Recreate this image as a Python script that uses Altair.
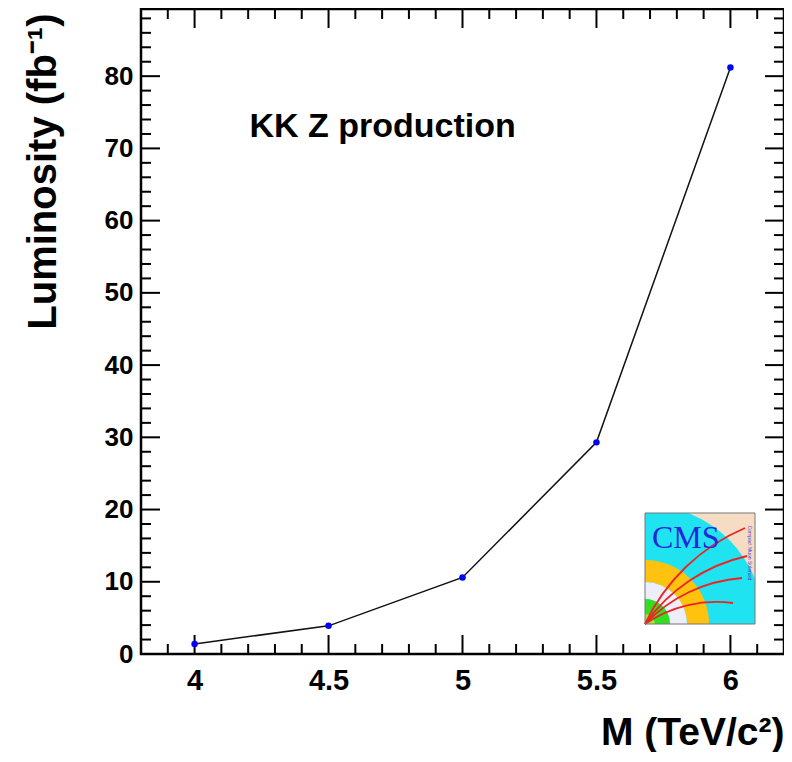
import math
import altair as alt
import pandas as pd

# ---- data ----
mass = [4.0, 4.5, 5.0, 5.5, 6.0]
lumi = [1.4, 3.9, 10.6, 29.3, 81.2]

x_major = [4.0, 4.5, 5.0, 5.5, 6.0]
x_minor = [3.9, 4.1, 4.2, 4.3, 4.4, 4.6, 4.7, 4.8, 4.9, 5.1, 5.2, 5.3, 5.4,
           5.6, 5.7, 5.8, 5.9, 6.1]
y_major = [0, 10, 20, 30, 40, 50, 60, 70, 80]
y_minor = [2, 4, 6, 8, 12, 14, 16, 18, 22, 24, 26, 28, 32, 34, 36, 38, 42, 44,
           46, 48, 52, 54, 56, 58, 62, 64, 66, 68, 72, 74, 76, 78, 82, 84, 86, 88]

annot_text = ["KK Z production"]
annot_x = [4.205]
annot_y = [71.6]

# ---- layout ----
W, H = 643, 645
PAD_L = 133
FONT = "Liberation Sans"
MAJ, MIN = 19, 10

xs = alt.Scale(domain=[3.8, 6.2], nice=False, zero=False)
ys = alt.Scale(domain=[0, 89.3], nice=False, zero=False)

df = pd.DataFrame({"M": mass, "L": lumi})

x_axis = alt.Axis(values=x_major, format="~g", title="M (TeV/c²)", ticks=False,
                  tickSize=0, domain=False, grid=False, labelFont=FONT,
                  labelFontSize=29, labelFontWeight="bold", labelColor="black",
                  labelPadding=12, titleFont=FONT, titleFontSize=39,
                  titleFontWeight="bold", titleColor="black", titleAlign="right",
                  titleBaseline="alphabetic", titleX=W, titleY=90)
y_axis = alt.Axis(values=y_major, format="d", title="Luminosity (fb⁻¹)",
                  ticks=False, tickSize=0, domain=False, grid=False,
                  labelFont=FONT, labelFontSize=26, labelFontWeight="bold",
                  labelColor="black", labelPadding=8, titleFont=FONT,
                  titleFontSize=40, titleFontWeight="bold", titleColor="black",
                  titleAngle=270, titleAlign="right", titleBaseline="alphabetic",
                  titleX=-86, titleY=4)

X = alt.X("M:Q", scale=xs, axis=x_axis)
Y = alt.Y("L:Q", scale=ys, axis=y_axis)

line = alt.Chart(df).mark_line(color="#111111", strokeWidth=1.5).encode(x=X, y=Y)
pts = alt.Chart(df).mark_circle(color="#0000ff", size=42, opacity=1).encode(x=X, y=Y)

text = alt.Chart(pd.DataFrame({"M": annot_x, "L": annot_y, "t": annot_text})).mark_text(
    align="left", baseline="alphabetic", font=FONT, fontSize=34,
    fontWeight="bold", color="black"
).encode(x=X, y=Y, text="t:N")


def xticks(vals, length, top):
    d = pd.DataFrame({"M": vals})
    y0, y1 = (0, length) if top else (H, H - length)
    return alt.Chart(d).mark_rule(color="black", strokeWidth=2).encode(
        x=X, y=alt.value(y0), y2=alt.value(y1))


def yticks(vals, length, right):
    d = pd.DataFrame({"L": vals})
    x0, x1 = (W, W - length) if right else (0, length)
    return alt.Chart(d).mark_rule(color="black", strokeWidth=2).encode(
        y=Y, x=alt.value(x0), x2=alt.value(x1))


ticks = [xticks(x_major, MAJ, False), xticks(x_minor, MIN, False),
         xticks(x_major, MAJ, True), xticks(x_minor, MIN, True),
         yticks(y_major, MAJ, False), yticks(y_minor, MIN, False),
         yticks(y_major, MAJ, True), yticks(y_minor, MIN, True)]

# ---- CMS logo (decoration) ----
one = alt.Data(values=[{"a": 1}])
LX0, LY0, LW, LH = 504, 504, 110, 111
CX, CY = LX0, LY0 + LH  # bottom-left corner


def rect(x0, x1, y0, y1, color, **kw):
    return alt.Chart(one).mark_rect(color=color, **kw).encode(
        x=alt.value(x0), x2=alt.value(x1), y=alt.value(y0), y2=alt.value(y1))


def ring(r_out, r_in, color, t0=0.0, t1=math.pi / 2, cx=CX, cy=CY):
    return alt.Chart(one).mark_arc(radius=r_out, radius2=r_in, theta=t0, theta2=t1,
                                   color=color).encode(x=alt.value(cx), y=alt.value(cy))


logo = [
    rect(LX0, LX0 + LW, LY0, LY0 + LH, "#f7dcc4"),
    ring(119, 0, "#1fe3f0"),
    rect(LX0 - 1, LX0 + 50, LY0 - 12, LY0, "white"),
    rect(LX0 + LW, LX0 + LW + 12, LY0 + LH - 50, LY0 + LH + 1, "white"),
    ring(64, 42, "#ffc20e"),
    ring(42, 25, "#eeeefa"),
    ring(25, 0, "#33dd22"),
    ring(10, 0, "#99ee33"),
]

for dx, dy in [(88, 21), (97, 46), (102, 68), (100, 96)]:
    L = math.hypot(dx, dy)
    R = 1.4 * L
    ux, uy = dx / L, dy / L
    nx, ny = uy, -ux
    h = math.sqrt(R * R - (L / 2) ** 2)
    ccx, ccy = dx / 2 + nx * h, dy / 2 + ny * h
    ta = math.atan2(0 - ccx, 0 - ccy) % (2 * math.pi)
    tb = math.atan2(dx - ccx, dy - ccy) % (2 * math.pi)
    diff = (tb - ta) % (2 * math.pi)
    logo.append(ring(R + 0.9, R - 0.9, "#ee2222", ta, ta + diff,
                     cx=CX + ccx, cy=CY - ccy))

logo.append(alt.Chart(one).mark_text(text="CMS", font="Liberation Serif", fontSize=32,
                                     align="left", baseline="alphabetic",
                                     color="#2626d9").encode(
    x=alt.value(LX0 + 7), y=alt.value(LY0 + 35)))
logo.append(alt.Chart(one).mark_text(text="Compact Muon Solenoid", font=FONT,
                                     fontSize=5, angle=90, align="center",
                                     baseline="middle", color="#4444cc").encode(
    x=alt.value(LX0 + LW - 5), y=alt.value(LY0 + 40)))
logo.append(alt.Chart(one).mark_rect(fill=None, fillOpacity=0, stroke="#777777",
                                     strokeWidth=1).encode(
    x=alt.value(LX0), x2=alt.value(LX0 + LW), y=alt.value(LY0), y2=alt.value(LY0 + LH)))

chart = alt.layer(line, *ticks, *logo, pts, text).properties(
    width=W, height=H, background="white",
    padding={"left": PAD_L, "top": 1, "right": 0, "bottom": 98},
    autosize=alt.AutoSizeParams(type="none"),
).configure_view(stroke="black", strokeWidth=2.5)

chart.save("out.html", embed_options={"renderer": "svg", "actions": False})
